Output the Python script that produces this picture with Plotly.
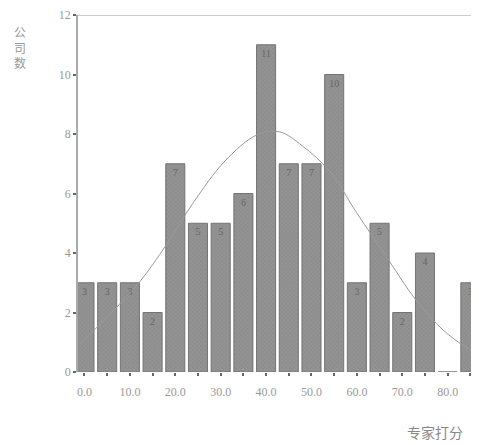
import plotly.graph_objects as go

# Data
bin_centers = [0, 5, 10, 15, 20, 25, 30, 35, 40, 45, 50, 55, 60, 65, 70, 75, 80, 85]
counts = [3, 3, 3, 2, 7, 5, 5, 6, 11, 7, 7, 10, 3, 5, 2, 4, 0, 3]
curve_x = [-1, 5, 12, 18, 24, 31, 38, 43, 48, 54, 60, 67, 73, 79, 84, 88]
curve_y = [0.94, 1.85, 3.0, 4.27, 5.7, 7.1, 7.97, 8.07, 7.6, 6.75, 5.34, 3.76, 2.42, 1.41, 0.84, 0.55]
x_tickvals = [0, 5, 10, 15, 20, 25, 30, 35, 40, 45, 50, 55, 60, 65, 70, 75, 80, 85]
x_ticktext = ["0.0", "", "10.0", "", "20.0", "", "30.0", "", "40.0", "", "50.0", "", "60.0", "", "70.0", "", "80.0", ""]
y_tickvals = [0, 2, 4, 6, 8, 10, 12]
y_title = "公司数"
x_title = "专家打分"

serif = "Liberation Serif, DejaVu Serif, serif"
cjk = "Noto Sans CJK SC, sans-serif"

fig = go.Figure()
fig.add_trace(go.Bar(
    x=bin_centers, y=counts,
    text=[str(c) if c > 0 else "" for c in counts],
    textposition="inside", insidetextanchor="end",
    textfont=dict(family=serif, size=10, color="#666666"),
    marker=dict(color="#8a8a8a", line=dict(color="#747474", width=1),
                pattern=dict(shape="x", size=3, solidity=0.25, fgcolor="#777777", bgcolor="#939393")),
    width=4.2, showlegend=False, hoverinfo="skip",
))
fig.add_trace(go.Scatter(
    x=curve_x, y=curve_y, mode="lines",
    line=dict(color="#9a9a9a", width=1, shape="spline", smoothing=1.0),
    showlegend=False, hoverinfo="skip",
))

fig.update_layout(
    width=479, height=445,
    margin=dict(l=70, r=8, t=7, b=81),
    paper_bgcolor="white", plot_bgcolor="white",
    xaxis=dict(range=[-1.43, 86.9], tickvals=x_tickvals, ticktext=x_ticktext,
               automargin=False, ticklabelstandoff=6,
               showgrid=False, zeroline=False, showline=False,
               ticks="outside", ticklen=3, tickwidth=2, tickcolor="#666",
               tickfont=dict(family=serif, size=12, color="#999")),
    yaxis=dict(range=[0, 12], tickvals=y_tickvals, showgrid=False, zeroline=False,
               automargin=False,
               showline=True, linecolor="#aaaaaa", linewidth=1.5,
               ticks="outside", ticklen=3, tickwidth=2, tickcolor="#666",
               tickfont=dict(family=serif, size=12, color="#999")),
    shapes=[dict(type="line", xref="paper", yref="y", x0=0, x1=1, y0=12, y1=12,
                 line=dict(color="#bbbbbb", width=1.5))],
    annotations=[
        dict(text="<br>".join(list(y_title)), xref="paper", yref="paper",
             x=-0.145, y=0.91, xanchor="center", yanchor="middle", showarrow=False,
             font=dict(family=cjk, size=12, color="#999")),
        dict(text=x_title, xref="paper", yref="paper", x=0.89, y=-0.168,
             xanchor="center", yanchor="middle", showarrow=False,
             font=dict(family=cjk, size=14, color="#888")),
    ],
)
fig.write_html("out.html")
